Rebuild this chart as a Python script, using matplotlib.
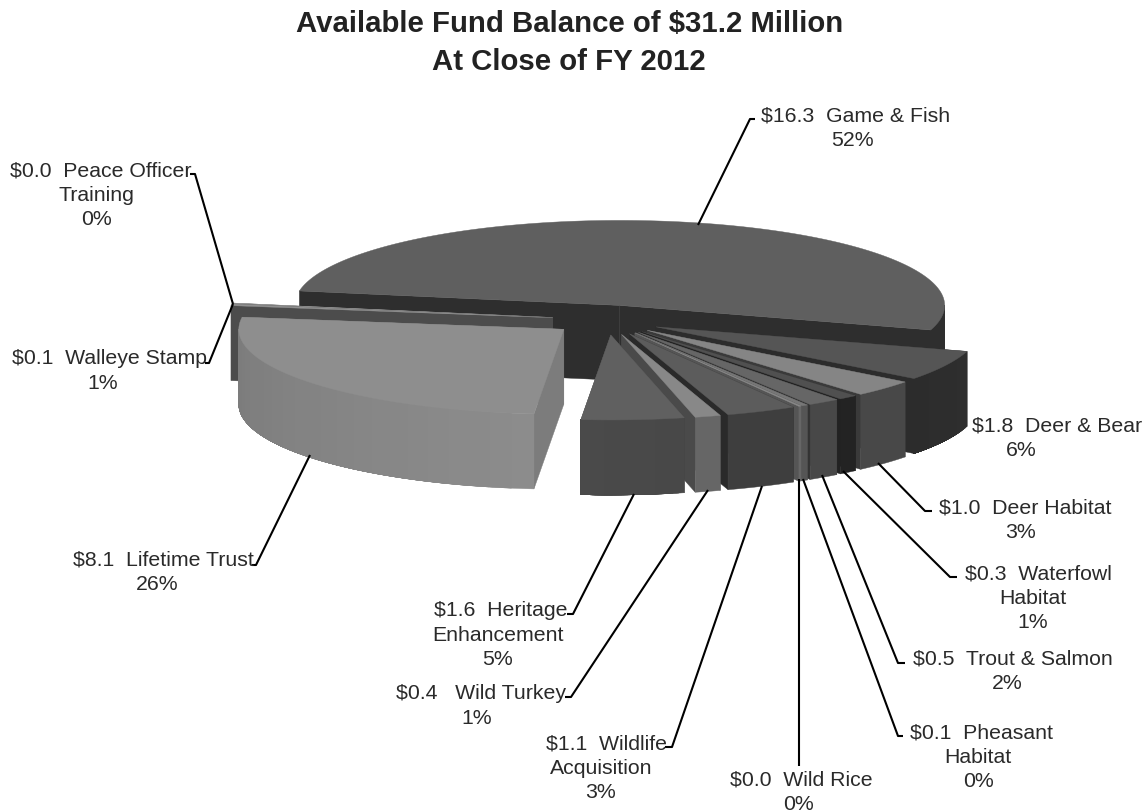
import numpy as np
import matplotlib
matplotlib.use("Agg")
import matplotlib.pyplot as plt
from matplotlib.colors import to_rgb
from matplotlib.patches import Polygon

plt.rcParams['font.family'] = ['Liberation Sans', 'DejaVu Sans']

# fondos, en millones (los $0.0 llevan un valor muy chico para que se vea la tajada)
funds = ['Game & Fish', 'Deer & Bear', 'Deer Habitat', 'Waterfowl Habitat', 'Trout & Salmon',
         'Pheasant Habitat', 'Wild Rice', 'Wildlife Acquisition', 'Wild Turkey',
         'Heritage Enhancement', 'Lifetime Trust', 'Walleye Stamp', 'Peace Officer Training']
amounts = [16.3, 1.8, 1.0, 0.3, 0.5, 0.1, 0.04, 1.1, 0.4, 1.6, 8.1, 0.1, 0.04]

label_texts = ['$16.3  Game & Fish\n52%', '$1.8  Deer & Bear\n6%', '$1.0  Deer Habitat\n3%',
               '$0.3  Waterfowl\nHabitat\n1%', '$0.5  Trout & Salmon\n2%', '$0.1  Pheasant\nHabitat\n0%',
               '$0.0  Wild Rice\n0%', '$1.1  Wildlife\nAcquisition\n3%', '$0.4   Wild Turkey\n1%',
               '$1.6  Heritage\nEnhancement\n5%', '$8.1  Lifetime Trust\n26%', '$0.1  Walleye Stamp\n1%',
               '$0.0  Peace Officer\nTraining\n0%']

# colores: tapa, corte, lado izq, lado der
top_colors = ['#5f5f5f', '#555555', '#858585', '#505050', '#666666', '#777777', '#8a8a8a',
              '#5c5c5c', '#888888', '#606060', '#8e8e8e', '#909090', '#9a9a9a']
cut_colors = ['#2e2e2e', '#2c2c2c', '#3a3a3a', '#222222', '#333333', '#444444', '#555555',
              '#2a2a2a', '#4a4a4a', '#454545', '#7c7c7c', '#4c4c4c', '#555555']
rim_left = ['#2e2e2e', '#2e2e2e', '#484848', '#232323', '#484848', '#555555', '#666666',
            '#3e3e3e', '#666666', '#484848', '#8c8c8c', '#444444', '#444444']
rim_right = ['#2e2e2e', '#2c2c2c', '#484848', '#232323', '#454545', '#555555', '#666666',
             '#444444', '#666666', '#4a4a4a', '#7a7a7a', '#444444', '#444444']

# etiquetas: centro x de la primera linea, centro x del resto, y de la primera linea
first_x = [856, 1057, 1025, 1038, 1013, 981, 801, 606, 481, 501, 163, 109, 101]
rest_x = [852, 1021, 1020, 1033, 1007, 978, 798, 601, 477, 498, 157, 103, 96]
first_y = [116, 426, 508, 574, 659, 733, 780, 744, 694, 611, 560, 359, 171]
line_step = 24.3

leaders = [[(698, 226), (750, 120), (755, 120)],
           [],
           [(878, 464), (925, 512), (932, 512)],
           [(843, 472), (950, 578), (957, 578)],
           [(822, 476), (898, 664), (905, 664)],
           [(803, 480), (898, 737), (903, 737)],
           [(799, 480), (799, 767)],
           [(762, 487), (672, 748), (665, 748)],
           [(708, 491), (571, 698), (565, 698)],
           [(634, 495), (573, 615), (567, 615)],
           [(310, 456), (256, 566), (252, 566)],
           [(233, 305), (209, 364), (205, 364)],
           [(233, 305), (195, 175), (190, 175)]]

cx, cy = 607, 321
a, b = 325, 85
ex, ey = 55, 15
depth = 75
start = 170.2


def quad(ax, pts, color, z):
    ax.add_patch(Polygon(pts, closed=True, facecolor=color, edgecolor=color, linewidth=0.3, zorder=z))


fig = plt.figure(figsize=(11.46, 8.12), dpi=100)
ax = fig.add_axes([0, 0, 1, 1])
ax.set_xlim(0, 1146)
ax.set_ylim(812, 0)
ax.axis('off')

sweeps = np.array(amounts) / sum(amounts) * 360
ends = start - np.cumsum(sweeps)
starts = ends + sweeps
mids = (starts + ends) / 2

# de atras hacia adelante
order = np.argsort(-np.sin(np.radians(mids)))
z = 1
for i in order:
    m = np.radians(mids[i])
    ox = cx + ex * np.cos(m)
    oy = cy - ey * np.sin(m)
    t_fine = np.radians(np.linspace(starts[i], ends[i], max(int(sweeps[i] * 2), 2) + 1))
    xs = ox + a * np.cos(t_fine)
    ys = oy - b * np.sin(t_fine)

    # cortes
    faces = [(xs[0], ys[0]), (xs[-1], ys[-1])]
    faces.sort(key=lambda p: p[1])
    for fx, fy in faces:
        quad(ax, [(ox, oy), (fx, fy), (fx, fy + depth), (ox, oy + depth)], cut_colors[i], z)
        z += 1

    # lado curvo: se pinta completo y encima bandas de degradado
    front = np.sin(t_fine) < 0
    n = len(t_fine)
    c0 = np.array(to_rgb(rim_left[i]))
    c1 = np.array(to_rgb(rim_right[i]))
    bands = 24 if sweeps[i] > 15 else 1
    for k in range(bands):
        keep = front & (np.arange(n) >= k * n / bands)
        if keep.sum() >= 2:
            idx = np.where(keep)[0]
            pts = list(zip(xs[idx], ys[idx])) + list(zip(xs[idx][::-1], ys[idx][::-1] + depth))
            quad(ax, pts, tuple(c0 + (c1 - c0) * k / max(bands - 1, 1)), z)
            z += 1

    # tapa
    quad(ax, [(ox, oy)] + list(zip(xs, ys)), top_colors[i], z)
    z += 1

for path in leaders:
    if path:
        ax.plot([p[0] for p in path], [p[1] for p in path], color='black', lw=1.5, zorder=z,
                solid_capstyle='butt')

for text, x1, x2, y in zip(label_texts, first_x, rest_x, first_y):
    for j, line in enumerate(text.split('\n')):
        ax.text(x1 if j == 0 else x2, y + j * line_step, line, ha='center', va='center',
                fontsize=15.3, color='#2a2a2a', zorder=z + 1)

ax.text(570, 24, 'Available Fund Balance of $31.2 Million', ha='center', va='center', fontsize=21.2,
        fontweight='bold', color='#222222')
ax.text(569, 62, 'At Close of FY 2012', ha='center', va='center', fontsize=21.2, fontweight='bold',
        color='#222222')

fig.savefig('out.png', dpi=100)
